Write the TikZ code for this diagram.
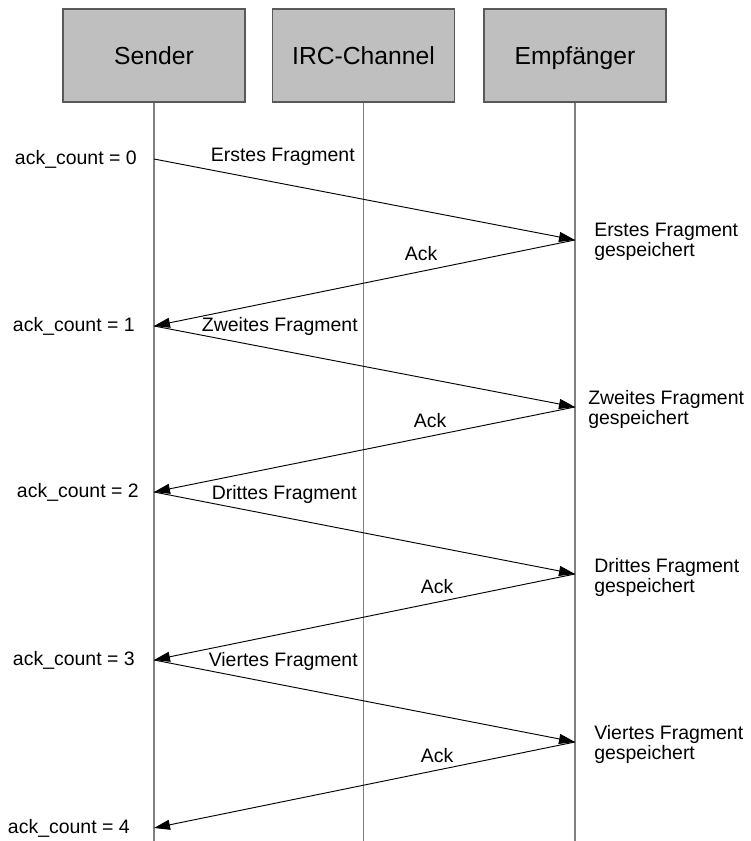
\documentclass[tikz,border=0pt]{standalone}
\usepackage{fontspec}
\setmainfont{Liberation Sans}
\usetikzlibrary{arrows.meta}

\begin{document}
\begin{tikzpicture}[x=0.75pt, y=-0.75pt,
    lane/.style={draw=black!65, fill=black!25, line width=0.9pt, minimum width=136.5pt, minimum height=69.75pt, text height=16pt, text depth=3pt, font=\fontsize{18.5}{22}\selectfont},
    life/.style={draw=black!50, line width=0.9pt},
    msg/.style={-{Triangle[length=12pt, width=7.5pt]}, line width=0.7pt},
    lbl/.style={font=\fontsize{14.6}{15}\selectfont, inner sep=0pt}]
    \useasboundingbox (0, 0) rectangle (750, 841);
    % lanes
    \node [lane] (sender) at (154, 55.5)   {Sender};
    \node [lane] (irc)    at (363.5, 55.5) {IRC-Channel};
    \node [lane] (empf)   at (575, 55.5)   {Empfänger};
    \coordinate (sender end) at (154, 841);
    \coordinate (irc end)    at (363.5, 841);
    \coordinate (empf end)   at (575, 841);
    \draw [life] (sender) -- (sender end);
    \draw [life] (irc) -- (irc end);
    \draw [life] (empf) -- (empf end);
    % points on the lifelines
    \coordinate (s0) at (154, 159);
    \coordinate (s1) at (154, 326);
    \coordinate (s2) at (154, 492);
    \coordinate (s3) at (154, 660);
    \coordinate (s4) at (154, 828);
    \coordinate (r1) at (575, 240);
    \coordinate (r2) at (575, 407);
    \coordinate (r3) at (575, 574);
    \coordinate (r4) at (575, 742);
    % Fragment 1
    \node [lbl, anchor=east] (ack0) at (137, 159) {ack\_count = 0};
    \draw [msg] (s0) -- (r1);
    \node [lbl, anchor=east] (frag1) at (355, 157) {Erstes Fragment};
    \node [lbl, anchor=west, align=left] (saved1) at (594, 242) {Erstes Fragment\\gespeichert};
    \draw [msg] (r1) -- (s1);
    \node [lbl] (ackmsg1) at (421, 254) {Ack};
    % Fragment 2
    \node [lbl, anchor=east] (ack1) at (135, 326) {ack\_count = 1};
    \draw [msg] (s1) -- (r2);
    \node [lbl, anchor=east] (frag2) at (358, 326) {Zweites Fragment};
    \node [lbl, anchor=west, align=left] (saved2) at (588, 409.5) {Zweites Fragment\\gespeichert};
    \draw [msg] (r2) -- (s2);
    \node [lbl] (ackmsg2) at (430, 421) {Ack};
    % Fragment 3
    \node [lbl, anchor=east] (ack2) at (139, 492) {ack\_count = 2};
    \draw [msg] (s2) -- (r3);
    \node [lbl, anchor=east] (frag3) at (357, 494) {Drittes Fragment};
    \node [lbl, anchor=west, align=left] (saved3) at (594, 577) {Drittes Fragment\\gespeichert};
    \draw [msg] (r3) -- (s3);
    \node [lbl] (ackmsg3) at (437, 587) {Ack};
    % Fragment 4
    \node [lbl, anchor=east] (ack3) at (135, 660) {ack\_count = 3};
    \draw [msg] (s3) -- (r4);
    \node [lbl, anchor=east] (frag4) at (358, 661) {Viertes Fragment};
    \node [lbl, anchor=west, align=left] (saved4) at (594, 744.5) {Viertes Fragment\\gespeichert};
    \draw [msg] (r4) -- (s4);
    \node [lbl] (ackmsg4) at (437, 756) {Ack};
    \node [lbl, anchor=east] (ack4) at (130, 828) {ack\_count = 4};
\end{tikzpicture}
\end{document}
